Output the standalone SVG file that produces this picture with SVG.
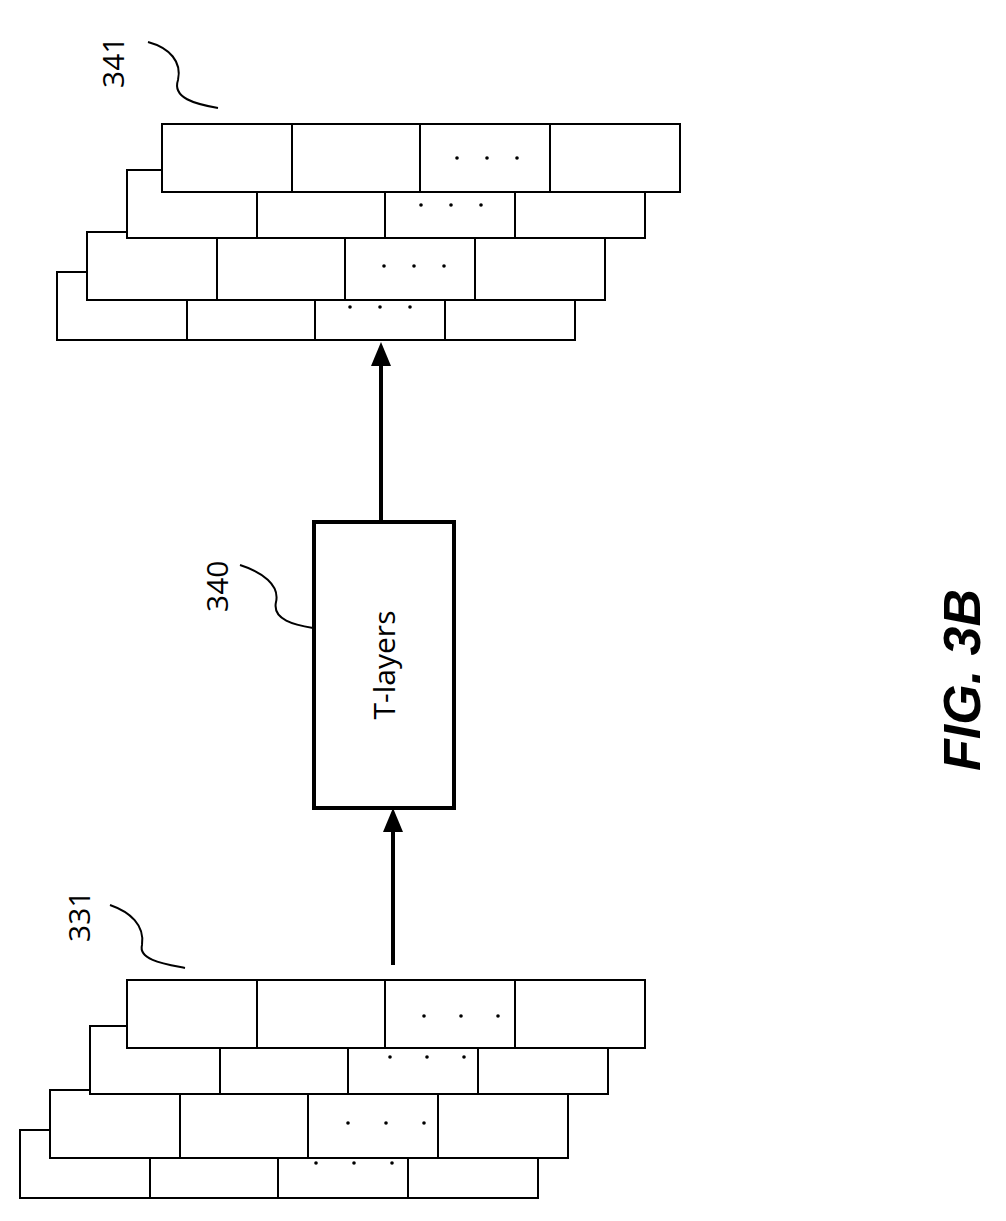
<svg xmlns="http://www.w3.org/2000/svg" width="1006" height="1221" viewBox="0 0 1006 1221">
<style>
.c{fill:#fff;stroke:#000;stroke-width:2}
.d{fill:#000}
.l{fill:none;stroke:#000;stroke-width:2}
.t{font-family:"Open Sans","DejaVu Sans",sans-serif;font-size:30px;fill:#000}
</style>
<defs>
<g id="row"><rect class="c" x="0" y="0" width="130" height="68"/><rect class="c" x="130" y="0" width="128" height="68"/><rect class="c" x="258" y="0" width="130" height="68"/><rect class="c" x="388" y="0" width="130" height="68"/></g>
</defs>
<rect width="1006" height="1221" fill="#fff"/>
<g id="n341">
<use href="#row" x="57" y="272"/>
<circle class="d" cx="350" cy="307" r="1.8"/><circle class="d" cx="380" cy="307" r="1.8"/><circle class="d" cx="410" cy="307" r="1.8"/>
<use href="#row" x="87" y="232"/>
<circle class="d" cx="384" cy="266" r="1.8"/><circle class="d" cx="414" cy="266" r="1.8"/><circle class="d" cx="444" cy="266" r="1.8"/>
<use href="#row" x="127" y="170"/>
<circle class="d" cx="421" cy="205" r="1.8"/><circle class="d" cx="451" cy="205" r="1.8"/><circle class="d" cx="481" cy="205" r="1.8"/>
<use href="#row" x="162" y="124"/>
<circle class="d" cx="457" cy="158" r="1.8"/><circle class="d" cx="487" cy="158" r="1.8"/><circle class="d" cx="517" cy="158" r="1.8"/>
<text class="t" transform="translate(124,88) rotate(-90)">341</text>
<path class="l" d="M148,42 C170,48 182,62 178,80 C172,98 195,104 218,108"/>
</g>
<g id="n331">
<use href="#row" x="20" y="1130"/>
<circle class="d" cx="316" cy="1163" r="1.8"/><circle class="d" cx="354" cy="1163" r="1.8"/><circle class="d" cx="392" cy="1163" r="1.8"/>
<use href="#row" x="50" y="1090"/>
<circle class="d" cx="348" cy="1123" r="1.8"/><circle class="d" cx="386" cy="1123" r="1.8"/><circle class="d" cx="424" cy="1123" r="1.8"/>
<use href="#row" x="90" y="1026"/>
<circle class="d" cx="390" cy="1057" r="1.8"/><circle class="d" cx="427" cy="1057" r="1.8"/><circle class="d" cx="464" cy="1057" r="1.8"/>
<use href="#row" x="127" y="980"/>
<circle class="d" cx="424" cy="1016" r="1.8"/><circle class="d" cx="461" cy="1016" r="1.8"/><circle class="d" cx="498" cy="1016" r="1.8"/>
<text class="t" transform="translate(90,942) rotate(-90)">331</text>
<path class="l" d="M110,905 C130,912 145,925 142,945 C138,960 165,964 185,968"/>
</g>
<g id="n340">
<rect x="314" y="522" width="140" height="286" fill="#fff" stroke="#000" stroke-width="4"/>
<text class="t" text-anchor="middle" transform="translate(395,665) rotate(-90)">T-layers</text>
<text class="t" transform="translate(228,612) rotate(-90)">340</text>
<path class="l" d="M240,565 C262,572 280,585 276,602 C272,620 295,625 313,628"/>
</g>
<g id="connectors">
<line x1="393" y1="965" x2="393" y2="830" stroke="#000" stroke-width="4"/>
<path d="M393,808 L383,832 L403,832 Z"/>
<line x1="381" y1="522" x2="381" y2="365" stroke="#000" stroke-width="4"/>
<path d="M381,342 L371,366 L391,366 Z"/>
</g>
<text transform="translate(980,680) rotate(-90)" text-anchor="middle" font-family="'Liberation Sans',Arial,sans-serif" font-size="52" font-weight="bold" font-style="italic">FIG. 3B</text>
</svg>
